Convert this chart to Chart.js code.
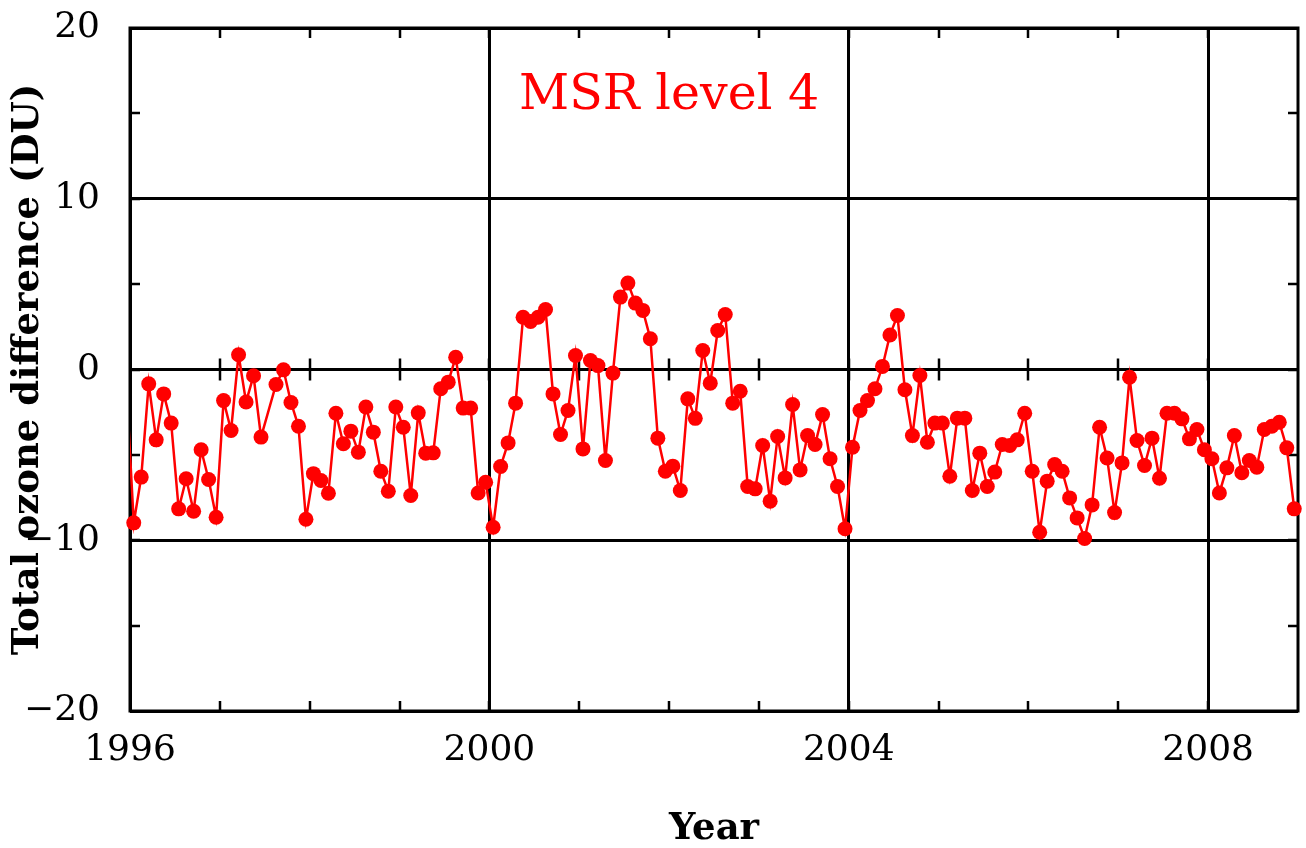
<!DOCTYPE html>
<html>
<head>
<meta charset="utf-8">
<script src="https://cdn.jsdelivr.net/npm/chart.js@4/dist/chart.umd.min.js"></script>
<style>
  html, body { margin: 0; padding: 0; background: #ffffff; }
  #wrap { width: 1306px; height: 848px; position: relative; }
</style>
</head>
<body>
<div id="wrap"><canvas id="c"></canvas></div>
<script>
// ---- Data (monthly total ozone difference, DU; mid-month values) ----
const startYear = 1996;
const leadInDec1995 = -0.8;   // previous month, only its connecting line is visible
const y1996 = [-8.98, -6.3, -0.84, -4.12, -1.43, -3.14, -8.16, -6.4, -8.3, -4.7, -6.44, -8.65];
const y1997 = [-1.82, -3.57, 0.86, -1.9, -0.37, -3.96, null, -0.88, -0.02, -1.93, -3.32, -8.77];
const y1998 = [-6.1, -6.5, -7.25, -2.56, -4.35, -3.61, -4.84, -2.2, -3.67, -5.96, -7.13, -2.2];
const y1999 = [-3.38, -7.38, -2.54, -4.9, -4.88, -1.13, -0.74, 0.72, -2.26, -2.26, -7.23, -6.6];
const y2000 = [-9.24, -5.68, -4.3, -1.97, 3.06, 2.81, 3.06, 3.51, -1.43, -3.81, -2.4, 0.82];
const y2001 = [-4.65, 0.53, 0.23, -5.33, -0.21, 4.24, 5.06, 3.89, 3.46, 1.8, -4.02, -5.96];
const y2002 = [-5.66, -7.09, -1.72, -2.86, 1.11, -0.8, 2.28, 3.22, -1.97, -1.27, -6.85, -6.99];
const y2003 = [-4.45, -7.71, -3.92, -6.35, -2.05, -5.88, -3.87, -4.39, -2.64, -5.23, -6.85, -9.33];
const y2004 = [-4.55, -2.4, -1.82, -1.13, 0.18, 2.02, 3.16, -1.19, -3.87, -0.35, -4.26, -3.14];
const y2005 = [-3.14, -6.25, -2.85, -2.85, -7.09, -4.9, -6.85, -6.01, -4.39, -4.45, -4.12, -2.56];
const y2006 = [-5.96, -9.53, -6.54, -5.57, -5.96, -7.52, -8.69, -9.9, -7.93, -3.38, -5.18, -8.38];
const y2007 = [-5.47, -0.45, -4.16, -5.62, -4.02, -6.37, -2.56, -2.56, -2.89, -4.06, -3.51, -4.7];
const y2008 = [-5.23, -7.23, -5.76, -3.87, -6.05, -5.33, -5.72, -3.51, -3.32, -3.09, -4.59, -8.16];
const yearly = [y1996, y1997, y1998, y1999, y2000, y2001, y2002, y2003, y2004, y2005, y2006, y2007, y2008];

// ---- Axes / labels ----
const xMajorTicks = [1996, 2000, 2004, 2008];
const xRange = [1996, 2009];
const yRange = [-20, 20];
const yMajorStep = 10;
const yMinorStep = 5;
const xMinorStep = 1;
const xTitle = 'Year';
const yTitle = 'Total ozone difference (DU)';
const annotation = { text: 'MSR level 4', x: 2002, y: 16 };

// build point list from the arrays
const points = [];
yearly.forEach((arr, yi) => {
  arr.forEach((v, m) => {
    if (v !== null) points.push({ x: startYear + yi + (m + 0.5) / 12, y: v });
  });
});
const linePoints = [{ x: startYear - 1 + 11.5 / 12, y: leadInDec1995 }].concat(points);

const RED = '#ff0000';
const BLACK = '#000000';
const tickFont = { family: 'DejaVu Serif', size: 36 };

const framePlugin = {
  id: 'frame',
  beforeDatasetsDraw(chart) {
    const { ctx, chartArea: a, scales } = chart;
    const xs = scales.x, ys = scales.y;
    ctx.save();
    ctx.strokeStyle = BLACK;
    ctx.lineWidth = 2.5;
    ctx.beginPath();
    const y0 = ys.getPixelForValue(0);
    for (let yr = xRange[0] + xMinorStep; yr < xRange[1]; yr += xMinorStep) {
      const px = Math.round(xs.getPixelForValue(yr));
      ctx.moveTo(px, a.top); ctx.lineTo(px, a.top + 10);
      ctx.moveTo(px, a.bottom); ctx.lineTo(px, a.bottom - 10);
      ctx.moveTo(px, y0 - 11); ctx.lineTo(px, y0 + 11);
    }
    for (let v = yRange[0] + yMinorStep; v < yRange[1]; v += yMinorStep) {
      const py = Math.round(ys.getPixelForValue(v));
      ctx.moveTo(a.left, py); ctx.lineTo(a.left + 10, py);
      ctx.moveTo(a.right, py); ctx.lineTo(a.right - 10, py);
    }
    ctx.stroke();
    ctx.lineWidth = 3;
    ctx.strokeRect(a.left, a.top, a.right - a.left, a.bottom - a.top);
    ctx.restore();
  },
  afterDatasetsDraw(chart) {
    const { ctx, scales } = chart;
    ctx.save();
    ctx.fillStyle = RED;
    ctx.font = '49px "DejaVu Serif"';
    ctx.textAlign = 'center';
    ctx.textBaseline = 'middle';
    ctx.fillText(annotation.text, scales.x.getPixelForValue(annotation.x), scales.y.getPixelForValue(annotation.y));
    ctx.restore();
  }
};

new Chart(document.getElementById('c'), {
  type: 'scatter',
  data: {
    datasets: [
      {
        data: linePoints,
        showLine: true,
        spanGaps: true,
        borderColor: RED,
        borderWidth: 2.5,
        pointRadius: 0,
        clip: 0
      },
      {
        data: points,
        showLine: false,
        pointRadius: 7.5,
        pointBorderWidth: 0,
        pointBackgroundColor: RED,
        pointBorderColor: RED,
        clip: false
      }
    ]
  },
  options: {
    responsive: true,
    maintainAspectRatio: false,
    animation: false,
    events: [],
    layout: { padding: { top: 28, right: 8, left: 0, bottom: 0 } },
    plugins: { legend: { display: false }, tooltip: { enabled: false } },
    scales: {
      x: {
        type: 'linear',
        min: xRange[0],
        max: xRange[1],
        afterBuildTicks(scale) { scale.ticks = xMajorTicks.map(v => ({ value: v })); },
        afterFit(scale) { scale.height = 137; scale.paddingLeft = 0; scale.paddingRight = 0; },
        grid: { color: BLACK, lineWidth: 3, drawTicks: false },
        border: { display: false },
        ticks: {
          color: BLACK,
          font: tickFont,
          padding: 18,
          maxRotation: 0,
          autoSkip: false,
          callback: v => String(v)
        },
        title: {
          display: true,
          text: xTitle,
          color: BLACK,
          font: { family: 'DejaVu Serif', size: 37, weight: 'bold', lineHeight: 1 },
          padding: { top: 0, bottom: 0 }
        }
      },
      y: {
        type: 'linear',
        min: yRange[0],
        max: yRange[1],
        afterFit(scale) { scale.width = 130; scale.paddingTop = 0; scale.paddingBottom = 0; },
        grid: { color: BLACK, lineWidth: 3, drawTicks: false },
        border: { display: false },
        ticks: {
          stepSize: yMajorStep,
          color: BLACK,
          font: tickFont,
          padding: 30,
          callback: v => (v < 0 ? '\u2212' + Math.abs(v) : String(v))
        },
        title: {
          display: true,
          text: yTitle,
          color: BLACK,
          font: { family: 'DejaVu Serif', size: 37, weight: 'bold', lineHeight: 1 },
          padding: { top: 10, bottom: 0 }
        }
      }
    }
  },
  plugins: [framePlugin]
});
</script>
</body>
</html>
